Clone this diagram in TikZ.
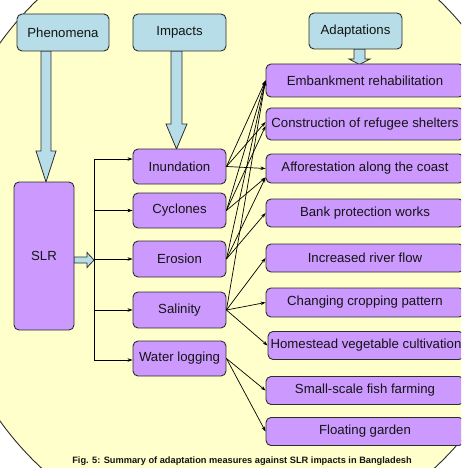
\documentclass[tikz,border=0pt]{standalone}
\usepackage{fontspec}
\setmainfont{Liberation Sans}
\usetikzlibrary{arrows.meta,calc}
\definecolor{bgy}{RGB}{255,255,204}
\definecolor{cyanc}{RGB}{183,222,232}
\definecolor{purp}{RGB}{204,153,255}
\definecolor{bord}{RGB}{45,45,45}
\definecolor{txt}{RGB}{20,20,20}
\begin{document}
\begin{tikzpicture}[x=1pt,y=-1pt,
  cb/.style={draw=bord, fill=cyanc, line width=0.9pt, rounded corners=5pt, inner sep=0pt,
    minimum width=92pt, minimum height=37pt, font=\fontsize{13.2}{15}\selectfont, text=txt},
  pb/.style={draw=bord, fill=purp, line width=0.9pt, rounded corners=5pt, inner sep=0pt,
    minimum width=93pt, minimum height=35pt, font=\fontsize{13.2}{15}\selectfont, text=txt},
  ab/.style={pb, minimum width=198pt, minimum height=30pt},
  con/.style={line width=0.7pt, draw=black, -{Stealth[length=5pt,width=3.5pt]}},
  blk/.style={fill=cyanc, draw=bord, line width=0.8pt, line join=miter}
]
\useasboundingbox (0,0) rectangle (461,468);
\clip (0,0) rectangle (461,468);
\fill[white] (0,0) rectangle (461,468);
\draw[fill=bgy, draw=bord, line width=0.9pt] (238,232) ellipse [x radius=298pt, y radius=314pt];

% block arrows
\draw[blk] (41,51) -- (41,151) -- (36,151) -- (46,182) -- (56,151) -- (51,151) -- (51,51) -- cycle;
\draw[blk] (171,51) -- (171,124) -- (166,124) -- (176.5,149) -- (187,124) -- (182,124) -- (182,51) -- cycle;
\draw[blk] (354,49) -- (354,59) -- (349,59) -- (359.5,64.5) -- (370,59) -- (365,59) -- (365,49) -- cycle;
\draw[blk] (74,257) -- (87,257) -- (87,252.5) -- (94,260) -- (87,267.5) -- (87,263) -- (74,263) -- cycle;

% header boxes
\node[cb] (phen) at (63,32.5) {Phenomena};
\node[cb, minimum width=93pt] (imp) at (179.5,32.5) {Impacts};
\node[cb, minimum width=93pt, minimum height=36pt] (adp) at (355.5,31) {Adaptations};

% SLR and impacts
\node[pb, minimum width=60pt, minimum height=148pt] (slr) at (44,256) {SLR};
\node[pb] (inu) at (179.5,166.5) {Inundation};
\node[pb] (cyc) at (179.5,210.5) {Cyclones};
\node[pb, minimum height=36pt] (ero) at (179.5,259) {Erosion};
\node[pb, minimum height=36pt] (sal) at (179.5,310) {Salinity};
\node[pb] (wat) at (179.5,358.5) {Water logging};

% adaptations
\node[ab, minimum height=33pt] (emb) at (365,80.5) {Embankment rehabilitation};
\node[ab, minimum height=32pt] (ref) at (365,124) {Construction of refugee shelters};
\node[ab, minimum height=29pt] (aff) at (365,168.5) {Afforestation along the coast};
\node[ab, minimum height=28pt] (bank) at (365,213) {Bank protection works};
\node[ab, minimum height=28pt] (riv) at (365,258) {Increased river flow};
\node[ab, minimum height=29pt] (crop) at (365,302.5) {Changing cropping pattern};
\node[ab, minimum height=28pt, minimum width=196pt] (home) at (366,345.5) {Homestead vegetable cultivation};
\node[ab, minimum height=28pt] (fish) at (365,390.5) {Small-scale fish farming};
\node[ab, minimum height=28pt] (flt) at (365,431.5) {Floating garden};

% trunk
\coordinate (tt) at (94,159);
\coordinate (tb) at (94,360);
\draw[line width=0.8pt] (tt) -- (tb);
\draw[con] (tt) -- (tt -| inu.west);
\draw[con] (cyc.west -| tt) -- (cyc.west);
\draw[con] (ero.west -| tt) -- (ero.west);
\draw[con] (sal.west -| tt) -- (sal.west);
\draw[con] (tb) -- (tb -| wat.west);

% impact -> adaptation
\draw[con] (inu.east) -- (emb.west);
\draw[con] (inu.east) -- ([yshift=2pt]ref.west);
\draw[con] (inu.east) -- (aff.west);
\draw[con] (cyc.east) -- (emb.west);
\draw[con] (cyc.east) -- ([yshift=-2pt]ref.west);
\draw[con] (cyc.east) -- ([yshift=-9pt]aff.west);
\draw[con] (ero.east) -- (emb.west);
\draw[con] (ero.east) -- ([yshift=-9pt]aff.west);
\draw[con] (ero.east) -- (bank.west);
\draw[con] (sal.east) -- (emb.west);
\draw[con] (sal.east) -- (riv.west);
\draw[con] (sal.east) -- (crop.west);
\draw[con] (sal.east) -- (home.west);
\draw[con] (wat.east) -- (fish.west);
\draw[con] (wat.east) -- (flt.west);

\node[font=\bfseries\fontsize{9.25}{11}\selectfont, text=txt] (cap) at (242,461)
  {Fig. 5: Summary of adaptation measures against SLR impacts in Bangladesh};
\end{tikzpicture}
\end{document}
